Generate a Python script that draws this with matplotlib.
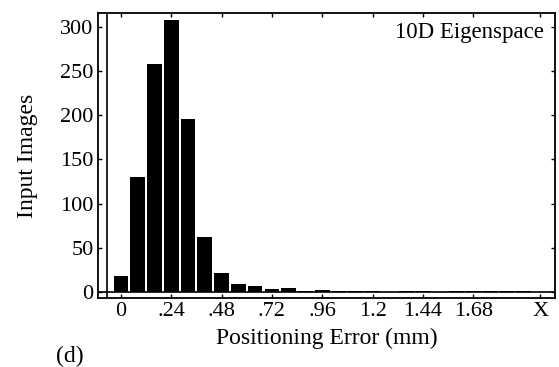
import matplotlib
matplotlib.use("Agg")
import matplotlib.pyplot as plt

# histogram of positioning error, bins of 0.08 mm
bin_width = 0.08
counts = [18, 130, 258, 308, 196, 62, 21, 9, 7, 3, 5,
          1, 2, 1, 1, 1, 0, 1, 1, 0, 1, 1, 1, 1, 1]
centers = [i * bin_width for i in range(len(counts))]

tick_pos = [0, 0.24, 0.48, 0.72, 0.96, 1.2, 1.44, 1.68, 2.0]
tick_lab = ["0", ".24", ".48", ".72", ".96", "1.2", "1.44", "1.68", "X"]
ytick_pos = [0, 50, 100, 150, 200, 250, 300]

plt.rcParams['font.family'] = ['Liberation Serif', 'DejaVu Serif']

fig = plt.figure(figsize=(5.59, 3.67), dpi=100)
ax = fig.add_axes([0.175, 0.188, 0.818, 0.777])

ax.bar(centers, counts, width=0.07, color='black', align='center')
ax.axhline(0, color='black', lw=1.2)
ax.axvline(-0.067, color='black', lw=1.2)

ax.set_xlim(-0.11, 2.07)
ax.set_ylim(-6.8, 315.6)
ax.set_xticks(tick_pos)
ax.set_xticklabels(tick_lab)
ax.set_yticks(ytick_pos)
ax.tick_params(direction='in', length=3, width=1, labelsize=16,
               top=True, right=True, pad=3)
for s in ax.spines.values():
    s.set_linewidth(1.3)

ax.set_ylabel("Input Images", fontsize=17, labelpad=16)
ax.set_xlabel("Positioning Error (mm)", fontsize=17, labelpad=5)
ax.text(0.975, 0.93, "10D Eigenspace", transform=ax.transAxes,
        ha='right', va='center', fontsize=16.5)
fig.text(0.125, 0.0, "(d)", ha='center', va='bottom', fontsize=17)

fig.savefig("out.png", dpi=100)
